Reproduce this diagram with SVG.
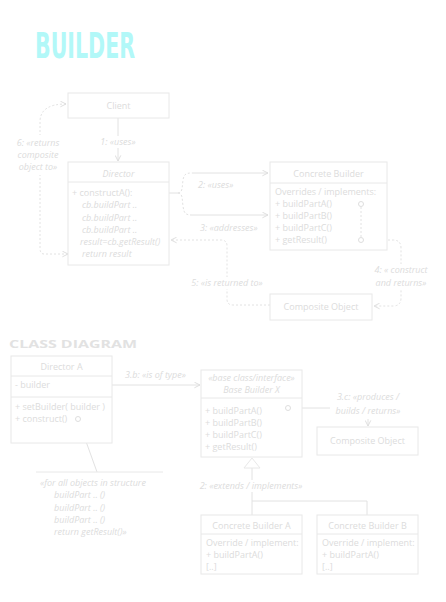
<svg xmlns="http://www.w3.org/2000/svg" width="446" height="602" viewBox="0 0 446 602">
<style>
.box{fill:#fff;stroke:#e8e8e8;stroke-width:1}
.dv{stroke:#e8e8e8;stroke-width:1}
.t{font-family:"Open Sans","DejaVu Sans",sans-serif;font-size:9px;fill:#dcdcdc}
.c{text-anchor:middle}
.i{font-style:italic}
.ln{fill:none;stroke:#e2e2e2;stroke-width:1}
.dl{fill:none;stroke:#e2e2e2;stroke-width:1;stroke-dasharray:2 2}
.bg{fill:#fff;stroke:none}
.dot{fill:#fff;stroke:#dedede;stroke-width:1}
</style>
<defs>
<marker id="a" viewBox="0 0 10 10" refX="9" refY="5" markerWidth="7" markerHeight="7" orient="auto-start-reverse">
<path d="M1,1 L9,5 L1,9" fill="none" stroke="#dcdcdc" stroke-width="1.3"/>
</marker>
</defs>

<text x="35" y="58" font-family="'DejaVu Sans Condensed','DejaVu Sans',sans-serif" font-weight="bold" font-size="36" fill="#b2f8f8" textLength="100" lengthAdjust="spacingAndGlyphs">BUILDER</text>

<g id="connectors">
<line class="ln" x1="118" y1="118" x2="118" y2="161" marker-end="url(#a)"/>
<rect class="bg" x="97" y="136" width="43" height="12"/>
<text class="t i c" x="118" y="145">1: «uses»</text>

<path class="ln" d="M178,193 L148,193" marker-end="url(#a)"/>
<path class="dl" d="M178,193 C183,193 182,186 183,180 C184,174 186,173 192,173"/>
<path class="ln" d="M192,173 L268,173" marker-end="url(#a)"/>
<path class="dl" d="M178,193 C183,193 182,200 183,206 C184,214 186,215 192,215"/>
<path class="ln" d="M192,215 L268,215" marker-end="url(#a)"/>
<text class="t i" x="198" y="188">2: «uses»</text>
<text class="t i" x="200" y="231">3: «addresses»</text>

<path class="dl" d="M270,305 L233,305 Q227,305 227,299 L227,246 Q227,240 221,240 L171,240" marker-end="url(#a)"/>
<rect class="bg" x="186" y="277" width="82" height="12"/>
<text class="t i c" x="227" y="286">5: «is returned to»</text>

<path class="dl" d="M364,240 L393,240 Q401,240 401,248 L401,298 Q401,306 393,306 L374,306" marker-end="url(#a)"/>
<rect class="bg" x="372" y="264" width="74" height="26"/>
<text class="t i c" x="401" y="273">4: « construct</text>
<text class="t i c" x="401" y="286">and returns»</text>

<path class="dl" d="M68,254 L44,254 Q40,254 40,248 L40,122 Q40,104 66,104" marker-start="url(#a)" marker-end="url(#a)"/>
<rect class="bg" x="10" y="135" width="58" height="40"/>
<text class="t i c" x="38" y="146">6: «returns</text>
<text class="t i c" x="38" y="158">composite</text>
<text class="t i c" x="38" y="170">object to»</text>

<line class="ln" x1="112" y1="385" x2="200" y2="385" marker-end="url(#a)"/>
<text class="t i" x="125" y="378">3.b: «is of type»</text>

<path class="ln" d="M291,408 L362,408 Q368,408 368,414 L368,426" marker-end="url(#a)"/>
<rect class="bg" x="330" y="391" width="76" height="28"/>
<text class="t i c" x="368" y="400">3.c: «produces /</text>
<text class="t i c" x="368" y="414">builds / returns»</text>

<line class="ln" x1="79" y1="422" x2="97" y2="472"/>

<path class="ln" d="M252,468 L252,515 M252,501 L367,501 L367,515"/>
<rect class="bg" x="196" y="480" width="112" height="12"/>
<text class="t i c" x="251" y="489">2: «extends / implements»</text>
<polygon points="252,458 244,468 260,468" class="box"/>
</g>

<g id="client">
<rect class="box" x="68" y="93" width="101" height="25"/>
<text class="t c" x="118.5" y="109">Client</text>
</g>

<g id="director">
<rect class="box" x="68" y="162" width="101" height="103"/>
<line class="dv" x1="68" y1="182" x2="169" y2="182"/>
<text class="t i c" x="118.5" y="177">Director</text>
<text class="t" x="72" y="196">+ constructA():</text>
<text class="t i" x="82" y="208">cb.buildPart ..</text>
<text class="t i" x="82" y="221">cb.buildPart ..</text>
<text class="t i" x="82" y="233">cb.buildPart ..</text>
<text class="t i" x="80" y="245">result=cb.getResult()</text>
<text class="t i" x="82" y="257">return result</text>
</g>

<g id="concrete-builder">
<rect class="box" x="270" y="162" width="117" height="88"/>
<line class="dv" x1="270" y1="183" x2="387" y2="183"/>
<text class="t c" x="328.5" y="177">Concrete Builder</text>
<text class="t" x="275" y="195">Overrides / implements:</text>
<text class="t" x="275" y="207">+ buildPartA()</text>
<text class="t" x="275" y="219">+ buildPartB()</text>
<text class="t" x="275" y="231">+ buildPartC()</text>
<text class="t" x="275" y="243">+ getResult()</text>
<line class="dl" x1="361" y1="207" x2="361" y2="238"/>
<circle class="dot" cx="361" cy="204" r="2.5"/>
<circle class="dot" cx="361" cy="240" r="2.5"/>
</g>

<g id="composite-object">
<rect class="box" x="270" y="294" width="102" height="26"/>
<text class="t c" x="321" y="310">Composite Object</text>
</g>

<text x="9" y="348" font-family="'Open Sans','DejaVu Sans',sans-serif" font-weight="bold" font-size="11" fill="#e2e2e2" textLength="128" lengthAdjust="spacingAndGlyphs">CLASS DIAGRAM</text>

<g id="director-a">
<rect class="box" x="11" y="356" width="101" height="87"/>
<line class="dv" x1="11" y1="376" x2="112" y2="376"/>
<line class="dv" x1="11" y1="397" x2="112" y2="397"/>
<text class="t c" x="61.5" y="370">Director A</text>
<text class="t" x="15" y="388">- builder</text>
<text class="t" x="15" y="410">+ setBuilder( builder )</text>
<text class="t" x="15" y="422">+ construct()</text>
<circle class="dot" cx="78" cy="419" r="2.5"/>
</g>

<g id="note">
<line class="dv" x1="36" y1="472" x2="163" y2="472"/>
<text class="t i" x="40" y="486">«for all objects in structure</text>
<text class="t i" x="54" y="498">buildPart .. ()</text>
<text class="t i" x="54" y="511">buildPart .. ()</text>
<text class="t i" x="54" y="523">buildPart .. ()</text>
<text class="t i" x="54" y="535">return getResult()»</text>
</g>

<g id="base-builder">
<rect class="box" x="201" y="370" width="101" height="87"/>
<line class="dv" x1="201" y1="398" x2="302" y2="398"/>
<text class="t i c" x="251.5" y="381">«base class/interface»</text>
<text class="t i c" x="251.5" y="393">Base Builder X</text>
<text class="t" x="205" y="414">+ buildPartA()</text>
<text class="t" x="205" y="426">+ buildPartB()</text>
<text class="t" x="205" y="438">+ buildPartC()</text>
<text class="t" x="205" y="450">+ getResult()</text>
<circle class="dot" cx="288" cy="408" r="2.5"/>
</g>

<g id="composite-object-2">
<rect class="box" x="317" y="427" width="101" height="28"/>
<text class="t c" x="367.5" y="444">Composite Object</text>
</g>

<g id="concrete-builder-a">
<rect class="box" x="201" y="515" width="101" height="59"/>
<line class="dv" x1="201" y1="534" x2="302" y2="534"/>
<text class="t c" x="251.5" y="529">Concrete Builder A</text>
<text class="t" x="206" y="546">Override / implement:</text>
<text class="t" x="206" y="558">+ buildPartA()</text>
<text class="t" x="206" y="570">[..]</text>
</g>

<g id="concrete-builder-b">
<rect class="box" x="317" y="515" width="101" height="59"/>
<line class="dv" x1="317" y1="534" x2="418" y2="534"/>
<text class="t c" x="367.5" y="529">Concrete Builder B</text>
<text class="t" x="322" y="546">Override / implement:</text>
<text class="t" x="322" y="558">+ buildPartA()</text>
<text class="t" x="322" y="570">[..]</text>
</g>
</svg>
